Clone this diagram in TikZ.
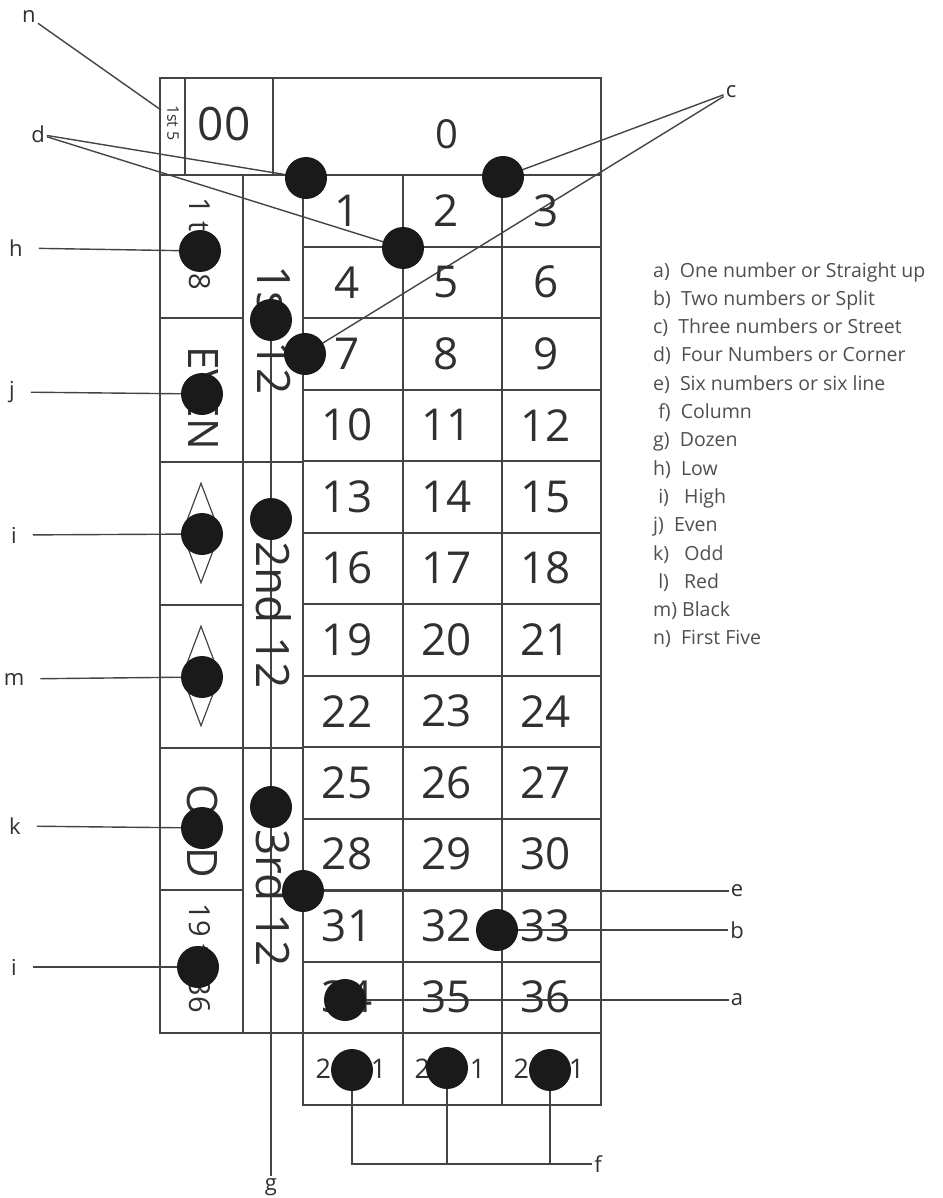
\documentclass[tikz,border=0pt]{standalone}
\usepackage{fontspec}
\setmainfont{Open Sans}
\usetikzlibrary{shapes.geometric, positioning, backgrounds}
\definecolor{inkgray}{HTML}{303030}
\definecolor{linegray}{HTML}{444444}
\definecolor{chipblack}{HTML}{1A1A1A}

\begin{document}
\begin{tikzpicture}[
  x=1pt, y=-1pt,
  gridline/.style={draw=linegray, line width=2pt},
  cellnum/.style={font=\fontsize{44}{44}\selectfont, text=inkgray, inner sep=0pt},
  sidetxt/.style={font=\fontsize{42}{42}\selectfont, text=inkgray, rotate=-90, inner sep=0pt},
  coltxt/.style={font=\fontsize{27}{27}\selectfont, text=inkgray, inner sep=0pt},
  chip/.style={circle, fill=chipblack, minimum size=42pt, inner sep=0pt},
  dmd/.style={diamond, draw=linegray, line width=1.2pt, minimum width=38pt, minimum height=100pt, inner sep=0pt},
  lbl/.style={font=\fontsize{22}{22}\selectfont, text=inkgray, inner sep=2pt},
  lead/.style={draw=linegray, line width=1.4pt},
  leadL/.style={lead, shorten <=14pt}
]
\useasboundingbox (0,0) rectangle (942,1198);

% Top row: 1st 5, 00 and 0
\draw[gridline] (160,78) rectangle (601,175);
\draw[gridline] (185,78) -- (185,175) (273,78) -- (273,175);
\node[sidetxt, font=\fontsize{16}{16}\selectfont] (first5) at (173,123) {1st 5};
\node[cellnum, font=\fontsize{46}{46}\selectfont] (dblzero) at (224,124) {00};
\node[cellnum, font=\fontsize{40}{40}\selectfont] (zero) at (447,134) {0};

% Outside bets and dozens
\draw[gridline] (160,175) rectangle (243,1033) (243,175) rectangle (303,1033);
\foreach \y in {318,462,605,748,890} \draw[gridline] (160,\y) -- (243,\y);
\foreach \y in {462,748} \draw[gridline] (243,\y) -- (303,\y);

% Number grid and column row
\draw[gridline] (303,175) rectangle (601,1105);
\foreach \r in {1,...,12} \draw[gridline] (303,{175+71.5*\r}) -- (601,{175+71.5*\r});
\draw[gridline] (403,175) -- (403,1105) (502,175) -- (502,1105);
\foreach \r in {0,...,11} \foreach \c in {0,1,2} {
  \pgfmathtruncatemacro\cellno{3*\r+\c+1}
  \node[cellnum] (n\cellno) at ({347+99.3*\c},{175+71.5*(\r+0.5)}) {\cellno};
}
\node[coltxt] (colA) at (351,1069) {2 to 1};
\node[coltxt] (colB) at (450,1069) {2 to 1};
\node[coltxt] (colC) at (549,1069) {2 to 1};

% Side texts
\node[sidetxt, font=\fontsize{29}{29}\selectfont] (low) at (200,244) {1 to 18};
\node[sidetxt] (even) at (203,398) {EVEN};
\node[dmd] (red) at (201,533) {};
\node[dmd] (black) at (201,676) {};
\node[sidetxt] (odd) at (203,831) {ODD};
\node[sidetxt, font=\fontsize{29}{29}\selectfont] (high) at (200,958) {19 to 36};
\node[sidetxt, font=\fontsize{46}{46}\selectfont] (doz1) at (274,330) {1st 12};
\node[sidetxt, font=\fontsize{46}{46}\selectfont] (doz2) at (274,615) {2nd 12};
\node[sidetxt, font=\fontsize{46}{46}\selectfont] (doz3) at (274,898) {3rd 12};

% Chips
\node[chip] (d1) at (306,178) {};
\node[chip] (c1) at (503,177) {};
\node[chip] (d2) at (403,248) {};
\node[chip] (hdot) at (200,251) {};
\node[chip] (g1) at (271,320) {};
\node[chip] (c2) at (305,354) {};
\node[chip] (jdot) at (202,394) {};
\node[chip] (g2) at (271,519) {};
\node[chip] (idot) at (202,534) {};
\node[chip] (mdot) at (202,677) {};
\node[chip] (g3) at (271,807) {};
\node[chip] (kdot) at (202,828) {};
\node[chip] (edot) at (303,891) {};
\node[chip] (bdot) at (497,930) {};
\node[chip] (i2dot) at (198,967) {};
\node[chip] (adot) at (345,1000) {};
\node[chip] (f1) at (352,1070) {};
\node[chip] (f2) at (447,1068) {};
\node[chip] (f3) at (550,1070) {};

% Letters
\node[lbl] (lbl-n) at (29,17) {n};
\node[lbl] (lbl-d) at (38,134) {d};
\node[lbl] (lbl-c) at (731,92) {c};
\node[lbl] (lbl-h) at (16,248) {h};
\node[lbl] (lbl-j) at (12,392) {j};
\node[lbl] (lbl-i) at (14,535) {i};
\node[lbl] (lbl-m) at (14,679) {m};
\node[lbl] (lbl-k) at (15,826) {k};
\node[lbl] (lbl-i2) at (14,967) {i};
\node[lbl] (lbl-e) at (737,891) {e};
\node[lbl] (lbl-b) at (737,930) {b};
\node[lbl] (lbl-a) at (737,1000) {a};
\node[lbl] (lbl-f) at (598,1164) {f};
\node[lbl] (lbl-g) at (271,1187) {g};
\coordinate (nend) at (161,110);

% Leaders (under the chips)
\begin{scope}[on background layer]
\draw[lead] (lbl-n) -- (nend);
\draw[lead] (lbl-d) -- (d1.center);
\draw[lead] (lbl-d) -- (d2.center);
\draw[lead] (lbl-c) -- (c1.center);
\draw[lead] (lbl-c) -- (c2.center);
\draw[leadL] (lbl-h) -- (hdot);
\draw[leadL] (lbl-j) -- (jdot);
\draw[leadL] (lbl-i) -- (idot);
\draw[leadL] (lbl-m) -- (mdot);
\draw[leadL] (lbl-k) -- (kdot);
\draw[leadL] (lbl-i2) -- (i2dot);
\draw[lead] (edot) -- (lbl-e);
\draw[lead] (bdot) -- (lbl-b);
\draw[lead] (adot) -- (lbl-a);
\draw[lead] (g1.center) -- (lbl-g);
\draw[lead] (f1) |- (lbl-f);
\draw[lead] (f2) |- (lbl-f);
\draw[lead] (f3) |- (lbl-f);
\end{scope}

% Legend
\node[anchor=north west, align=left, font=\fontsize{19.5}{28.3}\selectfont, text=inkgray!85, inner sep=0pt] (legend) at (653,262)
  {a)\ \ One number or Straight up\\
   b)\ \ Two numbers or Split\\
   c)\ \ Three numbers or Street\\
   d)\ \ Four Numbers or Corner\\
   e)\ \ Six numbers or six line\\
   \ f)\ \ Column\\
   g)\ \ Dozen\\
   h)\ \ Low\\
   \ i)\ \ \ High\\
   j)\ \ Even\\
   k)\ \ \ Odd\\
   \ l)\ \ \ Red\\
   m) Black\\
   n)\ \ First Five};

\end{tikzpicture}
\end{document}
